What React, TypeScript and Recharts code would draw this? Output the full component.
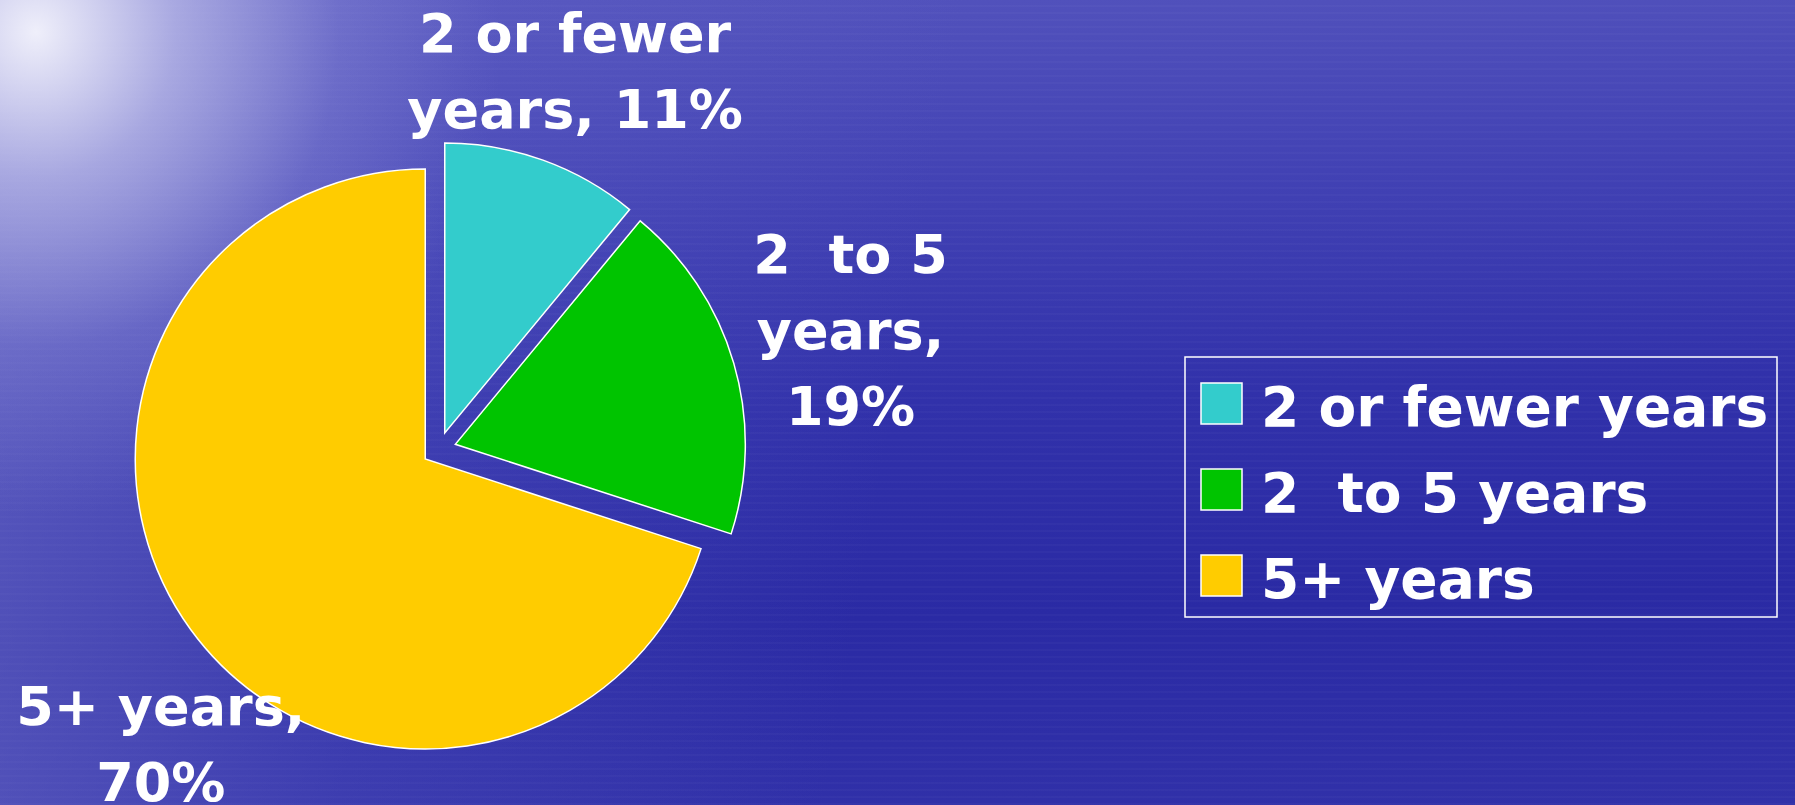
import React from 'react';
import { PieChart, Pie, Cell, Legend } from 'recharts';

// tenure split
const categories = ['2 or fewer years', '2  to 5 years', '5+ years'];
const shares = [11, 19, 70];
const colors = ['#33CCCC', '#00C400', '#FFCC00'];
// how each slice label wraps (name part, then separator before the percent)
const labelHeads = ['2 or fewer\nyears', '2  to 5\nyears', '5+ years'];
const labelBreaks = [' ', '\n', '\n'];

const W = 1795;
const H = 805;
const CX = 439;
const CY = 449;
const RADIUS = 290;
const EXPLODE = 17;
const FONT = '"DejaVu Sans", Verdana, sans-serif';

const chartData = categories.map((name, i) => ({ name, value: shares[i] }));

const total = shares.reduce((a, b) => a + b, 0);
let acc = 0;
const midAngles = shares.map((v) => {
  const m = 90 - (360 * (acc + v / 2)) / total;
  acc += v;
  return m;
});

const RAD = Math.PI / 180;

function renderLabel(props: any) {
  const { cx, cy, midAngle, outerRadius, index, value } = props;
  const lines = `${labelHeads[index]},${labelBreaks[index]}${value}%`.split('\n');
  const fs = 54;
  const lh = 76;
  const halfW = (Math.max(...lines.map((l) => l.length)) * 0.6 * fs) / 2;
  const halfH = ((lines.length - 1) * lh) / 2 + fs * 0.36;
  const pad = 15;

  // angle clockwise from the top
  let phi = 90 - midAngle;
  const sx = Math.sin(phi * RAD);
  const sy = Math.cos(phi * RAD);
  // outside end: label box just touching the arc
  let dist = outerRadius + 3 + Math.abs(sx) * halfW + Math.abs(sy) * halfH;
  let x = cx + dist * sx;
  if (x - halfW < pad || x + halfW > W - pad) {
    // no room: pull in and slide round the pie until it fits
    dist = outerRadius + 115;
    const edge = x - halfW < pad ? pad + halfW : W - pad - halfW;
    const s = (edge - cx) / dist;
    phi = sy < 0 ? 180 - Math.asin(s) / RAD : Math.asin(s) / RAD;
  }
  x = cx + dist * Math.sin(phi * RAD);
  const y = cy - dist * Math.cos(phi * RAD);
  const y0 = y - ((lines.length - 1) * lh) / 2 + fs * 0.36;

  return (
    <text
      key={`lbl-${index}`}
      x={x}
      y={y0}
      textAnchor="middle"
      fill="#ffffff"
      fontSize={fs}
      fontWeight={700}
      fontFamily={FONT}
      xmlSpace="preserve"
      style={{ whiteSpace: 'pre' }}
    >
      {lines.map((l, k) => (
        <tspan key={k} x={x} y={y0 + k * lh}>
          {l}
        </tspan>
      ))}
    </text>
  );
}

function LegendBox() {
  const bw = 594;
  const bh = 262;
  return (
    <svg width={bw} height={bh} style={{ display: 'block' }}>
      <rect x={1} y={1} width={bw - 2} height={bh - 2} fill="none" stroke="#ffffff" strokeWidth={1.5} />
      {categories.map((c, i) => (
        <g key={c}>
          <rect
            x={17}
            y={27 + i * 86}
            width={41}
            height={41}
            fill={colors[i]}
            stroke="#ffffff"
            strokeWidth={1.5}
          />
          <text
            x={77}
            y={70 + i * 86}
            fill="#ffffff"
            fontSize={55}
            fontWeight={700}
            fontFamily={FONT}
            xmlSpace="preserve"
            style={{ whiteSpace: 'pre' }}
          >
            {c}
          </text>
        </g>
      ))}
    </svg>
  );
}

const background = [
  'radial-gradient(ellipse 26% 60% at 2% 4%, rgba(246,246,253,0.95) 0%, rgba(205,205,240,0.65) 30%, rgba(160,160,225,0.25) 65%, rgba(140,140,215,0) 100%)',
  'linear-gradient(100deg, rgba(140,140,215,0.45) 0%, rgba(110,110,205,0.22) 25%, rgba(90,90,195,0) 50%)',
  'repeating-linear-gradient(0deg, rgba(255,255,255,0.025) 0px, rgba(255,255,255,0.025) 2px, rgba(0,0,0,0) 2px, rgba(0,0,0,0) 7px)',
  'linear-gradient(178deg, #5454bd 0%, #4242b4 25%, #3131aa 50%, #2a2aa4 75%, #3131a9 100%)',
].join(', ');

export default function App() {
  return (
    <div
      style={{
        position: 'fixed',
        left: 0,
        top: 0,
        width: W,
        height: H,
        overflow: 'hidden',
        background,
      }}
    >
      <PieChart width={W} height={H} margin={{ top: 0, right: 0, bottom: 0, left: 0 }}>
        {chartData.map((_, i) => (
          <Pie
            key={`slice-${i}`}
            data={chartData}
            dataKey="value"
            nameKey="name"
            cx={CX + EXPLODE * Math.cos(midAngles[i] * RAD)}
            cy={CY - EXPLODE * Math.sin(midAngles[i] * RAD)}
            outerRadius={RADIUS}
            innerRadius={0}
            startAngle={90}
            endAngle={-270}
            isAnimationActive={false}
            legendType="none"
          >
            {chartData.map((__, j) => (
              <Cell
                key={`c-${i}-${j}`}
                fill={j === i ? colors[j] : 'none'}
                stroke={j === i ? '#ffffff' : 'none'}
                strokeWidth={1.5}
              />
            ))}
          </Pie>
        ))}
        <Pie
          data={chartData}
          dataKey="value"
          nameKey="name"
          cx={CX}
          cy={CY}
          outerRadius={RADIUS}
          innerRadius={0}
          startAngle={90}
          endAngle={-270}
          isAnimationActive={false}
          legendType="none"
          label={renderLabel}
          labelLine={false}
        >
          {chartData.map((_, j) => (
            <Cell key={`l-${j}`} fill="none" stroke="none" />
          ))}
        </Pie>
        <Legend
          layout="vertical"
          align="right"
          verticalAlign="middle"
          content={() => <LegendBox />}
          wrapperStyle={{ left: 1184, top: 356, width: 594, height: 262, right: 'auto', bottom: 'auto' }}
        />
      </PieChart>
    </div>
  );
}
